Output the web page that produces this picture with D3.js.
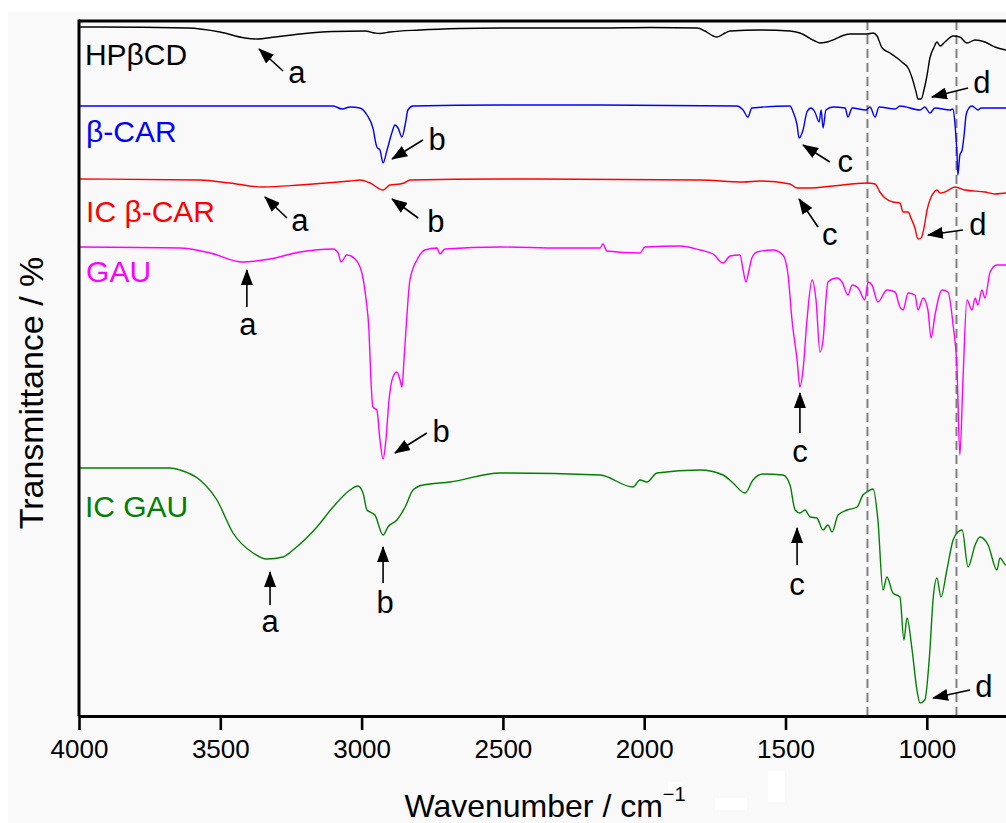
<!DOCTYPE html>
<html>
<head>
<meta charset="utf-8">
<script src="https://cdn.jsdelivr.net/npm/d3@7"></script>
<style>
  body { margin: 0; background: #fff; }
  svg { display: block; font-family: "Liberation Sans", Arial, sans-serif; }
</style>
</head>
<body>
<div id="chart"></div>
<script>
// wavenumber (cm-1), offset transmittance (arb. units)
const hpbcd = [[4000,137.8],[3926,137.8],[3618,137.6],[3501,136.8],[3413,135.6],[3370,135.4],[3306,135.8],[3218,136.4],[3101,136.9],[2988,137],[2953,136.6],[2935,136.5],[2900,136.8],[2793,137.2],[2652,137.5],[2510,137.6],[2156,137.6],[1979,137.7],[1813,137.6],[1785,137],[1756,136],[1742,135.8],[1714,136.6],[1696,137],[1590,137.2],[1484,137],[1449,136.6],[1396,135],[1378,134.6],[1353,134.8],[1272,136.4],[1212,136.4],[1190,136.6],[1176,136],[1158,133.6],[1130,132.6],[1105,131.6],[1084,130.6],[1066,129.6],[1052,127.6],[1038,124.8],[1031,123.4],[1020,123.4],[1010,125.2],[999,128.2],[989,131.6],[974,133.8],[964,134.8],[953,134],[936,134.8],[907,136],[883,135.8],[858,134.6],[829,135.2],[794,134.8],[759,133.8],[720,133.2],[700,133]];

const bcar = [[4000,122],[3572,122],[3101,122],[3069,121.4],[3041,121.8],[3006,121.6],[2981,120.2],[2960,117.6],[2946,113.8],[2935,113.2],[2924,110.6],[2910,113.2],[2892,116.8],[2882,118.2],[2871,117.6],[2857,115.8],[2846,118.2],[2836,121.2],[2818,122],[2510,122.2],[2156,122.2],[1672,122],[1650,121.2],[1633,119.8],[1619,121.6],[1484,122],[1473,120.8],[1459,118.2],[1452,115.6],[1438,117.2],[1424,120.8],[1410,121.6],[1396,120.8],[1381,118.8],[1374,121.2],[1367,117.6],[1357,121.2],[1332,121.8],[1289,121.6],[1279,119.8],[1264,121.6],[1215,121.2],[1201,121.8],[1183,119.8],[1169,121.8],[1112,121.4],[1095,122],[1024,121.2],[1007,121.8],[989,120.6],[971,121.6],[918,121.2],[907,121.4],[900,118.2],[893,112.2],[890,108.2],[883,112.2],[875,113.2],[868,116.2],[861,120.2],[851,121.6],[840,122],[829,121.6],[819,121.2],[808,121.6],[720,121.6],[700,121.6]];

const icBcar = [[4000,107.4],[3572,107.2],[3466,106.6],[3349,105.8],[3218,106.2],[3041,107],[3006,107.2],[2970,106.6],[2924,105.2],[2900,106.2],[2864,106.4],[2850,106.6],[2829,107.2],[2510,107.4],[1802,107.2],[1650,106.8],[1590,107],[1484,106.4],[1459,105.6],[1413,105.6],[1332,106],[1212,106.6],[1183,106.4],[1166,104.8],[1148,103.6],[1120,102.8],[1095,102.6],[1084,100.8],[1066,100.8],[1056,99.6],[1042,97.6],[1031,95.4],[1020,95.6],[1010,97.6],[999,101.2],[989,103.2],[974,104.8],[964,105.2],[953,104.6],[936,104.8],[900,105.8],[865,105.2],[794,104.8],[759,104.4],[720,104.6],[700,104.6]];

const gau = [[4000,93.8],[3643,93.6],[3536,92.6],[3420,90.8],[3324,91.4],[3218,92.8],[3101,93.4],[3083,92.6],[3073,90.8],[3052,92.2],[3023,91.4],[2999,88.6],[2984,83.2],[2974,77.2],[2967,67.2],[2960,61.8],[2946,61.2],[2935,55.2],[2924,51.4],[2914,55.2],[2903,63.2],[2889,67.8],[2875,68.8],[2864,67.2],[2857,65.8],[2850,71.2],[2843,77.2],[2829,87.2],[2804,91.2],[2776,93.2],[2733,93.6],[2723,92.4],[2705,93.4],[2510,93.8],[2298,93.6],[2156,93.6],[2146,94.4],[2132,93],[2015,92.6],[1997,93.8],[1873,94],[1802,93.2],[1756,92.4],[1721,90.6],[1696,92],[1661,92.2],[1650,89.2],[1640,86.8],[1629,89.2],[1619,91.6],[1601,92.8],[1544,93.2],[1509,92.2],[1491,88.2],[1477,79.2],[1459,71.2],[1449,65.8],[1438,69.2],[1424,79.2],[1406,87.2],[1392,83.2],[1378,72.8],[1367,75.2],[1357,83.2],[1350,86.8],[1318,87.6],[1300,86.8],[1279,84.2],[1264,86.2],[1243,85.6],[1219,83.2],[1208,86.8],[1194,86.2],[1173,82.8],[1141,85.2],[1112,84.8],[1098,82.2],[1084,81.2],[1066,84.6],[1042,84.2],[1031,81.2],[1013,83.6],[996,81.2],[985,75.6],[971,80.2],[946,85.2],[925,84.8],[907,78.2],[893,69.2],[883,52.2],[872,67.2],[858,83.2],[840,81.2],[829,83.6],[819,82.2],[805,85.2],[794,83.6],[776,88.8],[752,90.2],[720,90.2],[700,90.4]];

const icGau = [[4000,49.6],[3678,49.6],[3643,49.2],[3572,47.2],[3512,43.2],[3455,36.6],[3384,32.6],[3335,31.4],[3278,31.8],[3243,33.2],[3158,37.8],[3101,41.8],[3041,45.2],[3013,46],[2995,44.6],[2981,41.2],[2970,40.8],[2953,40.2],[2924,36.2],[2907,37.8],[2875,39.2],[2846,41.8],[2818,45.2],[2783,46.2],[2687,46.8],[2510,48.6],[2156,48.2],[2040,45.8],[2015,47.2],[1990,46.8],[1955,48.6],[1802,49.2],[1721,48.2],[1686,46.6],[1643,44.6],[1615,47.2],[1580,48.4],[1509,48.2],[1484,46.2],[1466,41.2],[1449,40.6],[1431,41.2],[1413,39.8],[1389,39.6],[1367,37.2],[1350,38.2],[1335,36.8],[1314,40.2],[1282,41.2],[1247,41.8],[1226,44.2],[1212,44.8],[1190,45.4],[1173,39.2],[1155,25.2],[1141,27.8],[1120,24.6],[1095,23.8],[1081,15.2],[1070,19.6],[1052,13.2],[1035,5.2],[1024,2.6],[1007,3.2],[989,13.2],[978,23.2],[964,27.6],[950,23.8],[929,29.2],[907,35.2],[890,36.8],[875,37.2],[854,29.8],[829,34.2],[812,35.8],[783,34.2],[752,29.2],[741,31.6],[720,30.2],[700,31]];

const seriesNames = ["HPβCD", "β-CAR", "IC β-CAR", "GAU", "IC GAU"];
const seriesData = [hpbcd, bcar, icBcar, gau, icGau];
const seriesColors = ["#000000", "#0000ff", "#ff0000", "#ff00ff", "#008000"];
// where each name sits: [wavenumber, baseline]
const nameAt = [[3979, 130.2], [3975, 114.8], [3975, 98.8], [3975, 86.8], [3979, 39.8]];

const tickValues = [4000, 3500, 3000, 2500, 2000, 1500, 1000];
const markerLines = [1210, 895];

// peak arrows: label, tip [w,t], tail [w,t], label [w,t]
const arrows = [
  ["a", [3363, 133.4], [3278, 129], [3229, 126.6]],
  ["d", [982, 123.8], [854, 125.6], [805, 124.6]],
  ["b", [2892, 111.4], [2783, 115.2], [2733, 113.2]],
  ["c", [1438, 114.2], [1343, 110.8], [1289, 108.8]],
  ["a", [3342, 103.8], [3264, 99.6], [3218, 97]],
  ["b", [2892, 103.4], [2800, 99.6], [2737, 96.8]],
  ["c", [1452, 103.4], [1385, 97.8], [1343, 94.2]],
  ["d", [996, 96.2], [872, 97.2], [819, 96.2]],
  ["a", [3406, 89.2], [3406, 81.8], [3402, 76.2]],
  ["b", [2882, 52.6], [2769, 56.6], [2719, 54.8]],
  ["c", [1449, 64.6], [1449, 56.6], [1449, 50.8]],
  ["a", [3324, 28.8], [3324, 22.2], [3324, 16.8]],
  ["b", [2924, 33.8], [2924, 26.6], [2917, 20.6]],
  ["c", [1459, 37.6], [1459, 30.2], [1459, 24.2]],
  ["d", [978, 3.6], [847, 5.2], [798, 3.8]]
];

const width = 1006, height = 823;
const plotLeft = 79, plotTop = 21, plotBottom = 716;
const pxPer500 = 141.3;

const svg = d3.select("#chart").append("svg")
  .attr("width", width)
  .attr("height", height);

svg.append("rect").attr("width", width).attr("height", height).attr("fill", "#fff");
svg.append("rect").attr("x", 8).attr("y", 12)
  .attr("width", width - 8).attr("height", height - 12).attr("fill", "#f9f9f9");

const x = d3.scaleLinear().domain([4000, 400]).range([plotLeft, plotLeft + 3600 / 500 * pxPer500]);
const y = d3.scaleLinear().domain([0, 139]).range([plotBottom, plotTop]);

const defs = svg.append("defs");
defs.append("clipPath").attr("id", "clip")
  .append("rect").attr("x", plotLeft).attr("y", plotTop)
  .attr("width", x(400) - plotLeft).attr("height", plotBottom - plotTop);

defs.append("marker")
  .attr("id", "head")
  .attr("markerUnits", "userSpaceOnUse")
  .attr("markerWidth", 16).attr("markerHeight", 12)
  .attr("refX", 15).attr("refY", 6)
  .attr("orient", "auto")
  .append("path").attr("d", "M0,0 L16,6 L0,12 z").attr("fill", "#000");

// dashed guide lines
svg.selectAll(".guide")
  .data(markerLines)
  .enter().append("line")
  .attr("class", "guide")
  .attr("x1", d => x(d)).attr("x2", d => x(d))
  .attr("y1", plotTop).attr("y2", plotBottom)
  .attr("stroke", "#808080")
  .attr("stroke-width", 2)
  .attr("stroke-dasharray", "9,5");

// spectra
const line = d3.line()
  .x(d => x(d[0]))
  .y(d => y(d[1]))
  .curve(d3.curveMonotoneX);

svg.append("g").attr("clip-path", "url(#clip)")
  .selectAll("path")
  .data(seriesData)
  .enter().append("path")
  .attr("d", line)
  .attr("fill", "none")
  .attr("stroke", (d, i) => seriesColors[i])
  .attr("stroke-width", 1.4)
  .attr("stroke-linejoin", "round");

// series names
svg.selectAll(".name")
  .data(seriesNames)
  .enter().append("text")
  .attr("class", "name")
  .attr("x", (d, i) => x(nameAt[i][0]))
  .attr("y", (d, i) => y(nameAt[i][1]))
  .attr("fill", (d, i) => seriesColors[i])
  .style("font-size", "30px")
  .text(d => d);

// arrows and peak letters
const ann = svg.append("g");
ann.selectAll("line")
  .data(arrows)
  .enter().append("line")
  .attr("x1", d => x(d[2][0])).attr("y1", d => y(d[2][1]))
  .attr("x2", d => x(d[1][0])).attr("y2", d => y(d[1][1]))
  .attr("stroke", "#000")
  .attr("stroke-width", 1.6)
  .attr("marker-end", "url(#head)");

ann.selectAll("text")
  .data(arrows)
  .enter().append("text")
  .attr("x", d => x(d[3][0]))
  .attr("y", d => y(d[3][1]))
  .attr("text-anchor", "middle")
  .style("font-size", "31px")
  .text(d => d[0]);

// frame
svg.append("line").attr("x1", plotLeft).attr("x2", width).attr("y1", plotTop).attr("y2", plotTop)
  .attr("stroke", "#000").attr("stroke-width", 3);
svg.append("line").attr("x1", plotLeft).attr("x2", plotLeft).attr("y1", plotTop - 1.5).attr("y2", plotBottom)
  .attr("stroke", "#000").attr("stroke-width", 3);

// x axis
const xAxis = svg.append("g")
  .attr("transform", `translate(0,${plotBottom})`)
  .call(d3.axisBottom(x)
    .tickValues(tickValues)
    .tickFormat(d3.format("d"))
    .tickSize(14)
    .tickSizeOuter(0)
    .tickPadding(10));
xAxis.select(".domain").attr("stroke-width", 3);
xAxis.selectAll(".tick line").attr("stroke-width", 2.6);
xAxis.selectAll(".tick text")
  .style("font-size", "26px")
  .style("font-family", "'Liberation Sans', Arial, sans-serif")
  .attr("fill", "#000");

// stray white blocks in the original
svg.append("rect").attr("x", 668).attr("y", 782).attr("width", 14).attr("height", 8).attr("fill", "#fff");
svg.append("rect").attr("x", 715).attr("y", 798).attr("width", 32).attr("height", 12).attr("fill", "#fff");
svg.append("rect").attr("x", 768).attr("y", 771).attr("width", 17).attr("height", 31).attr("fill", "#fff");

const xTitle = svg.append("text")
  .attr("x", 545)
  .attr("y", 817)
  .attr("text-anchor", "middle")
  .style("font-size", "32px");
xTitle.append("tspan").text("Wavenumber / cm");
xTitle.append("tspan").attr("dy", -16).style("font-size", "20px").text("\u22121");

svg.append("text")
  .attr("transform", "translate(43,393) rotate(-90)")
  .attr("text-anchor", "middle")
  .style("font-size", "34px")
  .text("Transmittance / %");
</script>
</body>
</html>
